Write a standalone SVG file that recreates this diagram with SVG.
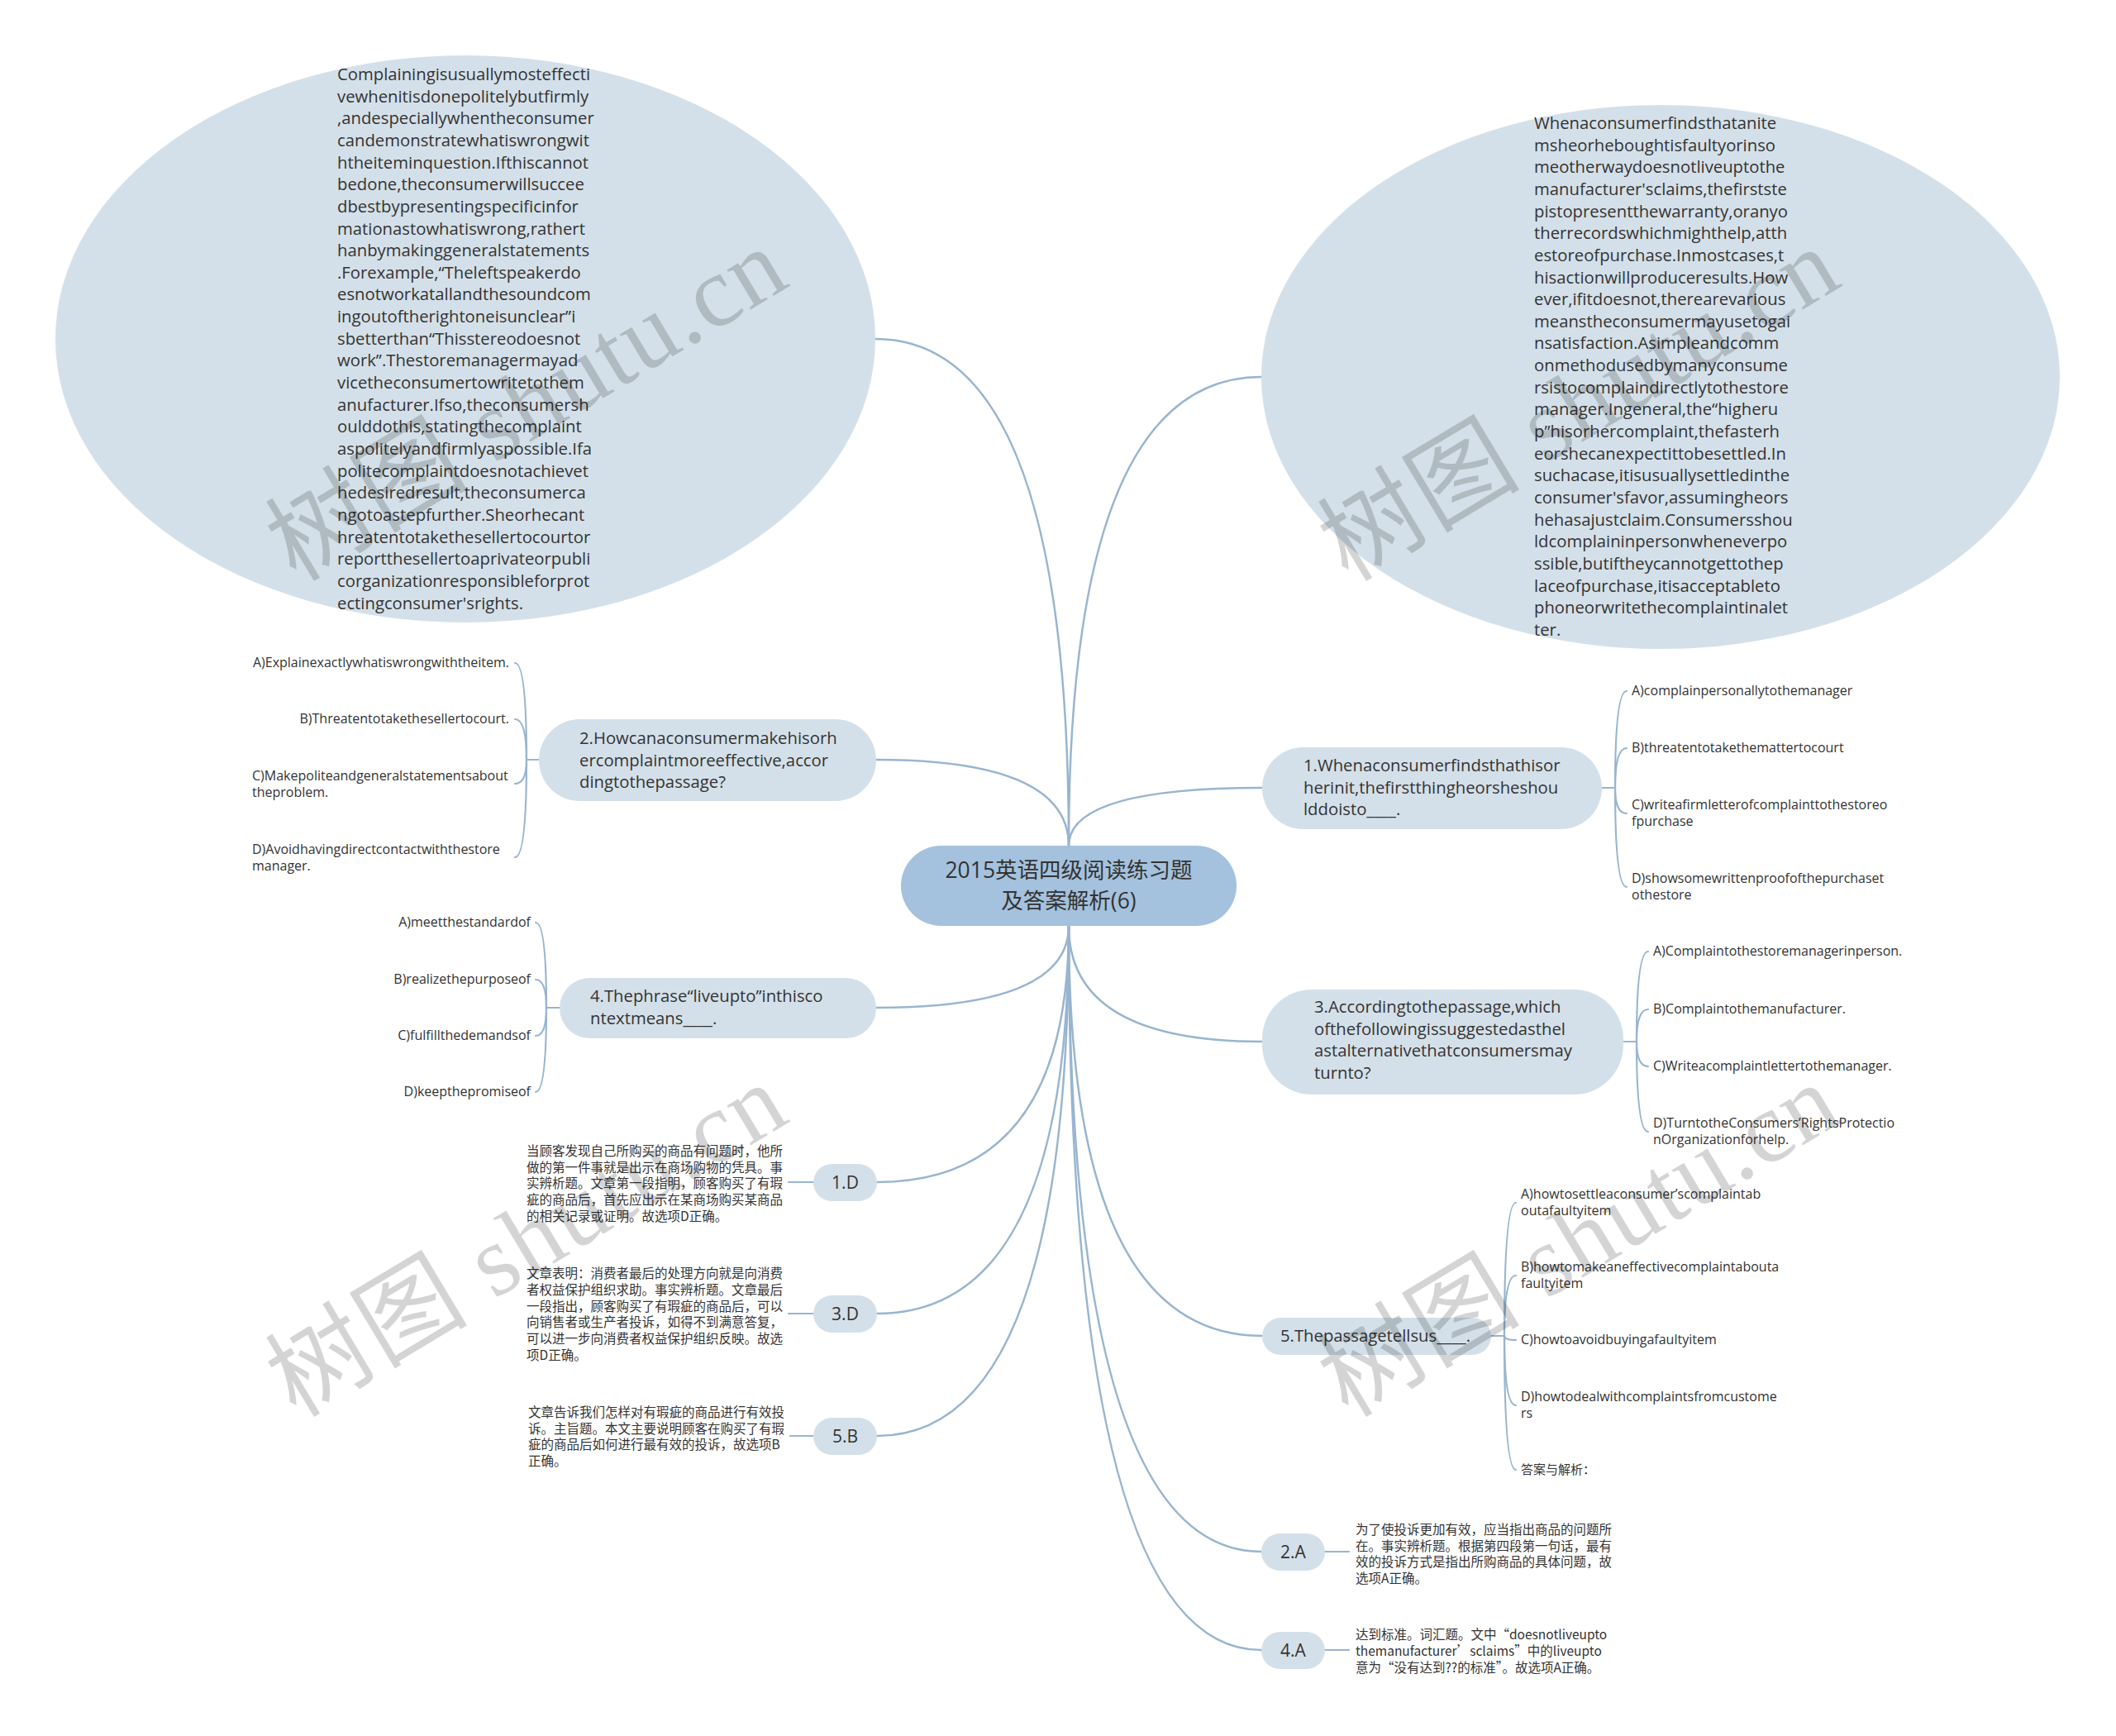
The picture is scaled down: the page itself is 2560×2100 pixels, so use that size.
<svg xmlns="http://www.w3.org/2000/svg" width="2560" height="2100" viewBox="0 0 2560 2100">
<style>
.bg{fill:#ffffff}
.node{fill:#d4e0e9}
.root{fill:#a4c1dd}
.edge{fill:none;stroke:#98b5cf;stroke-width:2.5;stroke-linecap:round}
.br{fill:none;stroke:#98b5cf;stroke-width:2.2;stroke-linecap:round}
.t{font-family:"Open Sans","Noto Sans CJK SC",sans-serif;fill:#333}
.big{font-size:20.3px}
.opt{font-size:16px}
.end{text-anchor:end}
.cn{font-family:"Noto Sans CJK SC",sans-serif;font-size:15.5px;fill:#333}
.lab{font-family:"Open Sans",sans-serif;font-size:21px;fill:#333;text-anchor:middle}
.rt{font-family:"Open Sans","Noto Sans CJK SC",sans-serif;font-size:26.5px;fill:#333;text-anchor:middle}
.wm{font-family:"Liberation Serif","Noto Sans CJK SC",serif;font-size:122px;fill:#000;fill-opacity:0.17}
</style>
<rect class="bg" x="0" y="0" width="2560" height="2100"/>

<g id="connectors">
  <path class="edge" d="M1293,1023 Q1293,410 1059,410"/>
  <path class="edge" d="M1293,1023 Q1293,456 1526,456"/>
  <path class="edge" d="M1293,1023 Q1293,919 1060,919"/>
  <path class="edge" d="M1293,1023 Q1293,953 1527,953"/>
  <path class="edge" d="M1293,1120 Q1293,1219 1060,1219"/>
  <path class="edge" d="M1293,1120 Q1293,1430 1061,1430"/>
  <path class="edge" d="M1293,1120 Q1293,1589 1061,1589"/>
  <path class="edge" d="M1293,1120 Q1293,1737 1061,1737"/>
  <path class="edge" d="M1293,1120 Q1293,1260 1527,1260"/>
  <path class="edge" d="M1293,1120 Q1293,1616 1527,1616"/>
  <path class="edge" d="M1293,1120 Q1293,1877 1526,1877"/>
  <path class="edge" d="M1293,1120 Q1293,1996 1526,1996"/>
  <!-- node 2 options -->
  <path class="br" d="M652,919 H637"/>
  <path class="br" d="M637,919 Q637,802 623,802"/>
  <path class="br" d="M637,919 Q637,870 623,870"/>
  <path class="br" d="M637,919 Q637,948 623,948"/>
  <path class="br" d="M637,919 Q637,1037 623,1037"/>
  <!-- node 4 options -->
  <path class="br" d="M677,1219 H661"/>
  <path class="br" d="M661,1219 Q661,1116 648,1116"/>
  <path class="br" d="M661,1219 Q661,1185 648,1185"/>
  <path class="br" d="M661,1219 Q661,1253 648,1253"/>
  <path class="br" d="M661,1219 Q661,1321 648,1321"/>
  <!-- node 1 options -->
  <path class="br" d="M1938,953 H1954"/>
  <path class="br" d="M1954,953 Q1954,836 1968,836"/>
  <path class="br" d="M1954,953 Q1954,905 1968,905"/>
  <path class="br" d="M1954,953 Q1954,984 1968,984"/>
  <path class="br" d="M1954,953 Q1954,1073 1968,1073"/>
  <!-- node 3 options -->
  <path class="br" d="M1964,1260 H1980"/>
  <path class="br" d="M1980,1260 Q1980,1151 1994,1151"/>
  <path class="br" d="M1980,1260 Q1980,1221 1994,1221"/>
  <path class="br" d="M1980,1260 Q1980,1290 1994,1290"/>
  <path class="br" d="M1980,1260 Q1980,1369 1994,1369"/>
  <!-- node 5 options -->
  <path class="br" d="M1804,1616 H1820"/>
  <path class="br" d="M1820,1616 Q1820,1455 1834,1455"/>
  <path class="br" d="M1820,1616 Q1820,1543 1834,1543"/>
  <path class="br" d="M1820,1616 Q1820,1621 1834,1621"/>
  <path class="br" d="M1820,1616 Q1820,1700 1834,1700"/>
  <path class="br" d="M1820,1616 Q1820,1778 1834,1778"/>
  <!-- answer stubs -->
  <path class="br" d="M984,1430 H954"/>
  <path class="br" d="M984,1589 H954"/>
  <path class="br" d="M984,1737 H956"/>
  <path class="br" d="M1603,1877 H1632"/>
  <path class="br" d="M1603,1996 H1632"/>
</g>

<g id="root">
  <rect class="root" x="1090" y="1023" width="406" height="97" rx="48.5"/>
  <text class="rt" x="1293" y="1062">2015英语四级阅读练习题</text>
  <text class="rt" x="1293" y="1099">及答案解析(6)</text>
</g>

<g id="passage-left">
  <ellipse class="node" cx="563" cy="410" rx="496" ry="343"/>
  <text class="t big" x="408" y="97">
    <tspan x="408">Complainingisusuallymosteffecti</tspan>
    <tspan x="408" dy="26.65">vewhenitisdonepolitelybutfirmly</tspan>
    <tspan x="408" dy="26.65">,andespeciallywhentheconsumer</tspan>
    <tspan x="408" dy="26.65">candemonstratewhatiswrongwit</tspan>
    <tspan x="408" dy="26.65">htheiteminquestion.Ifthiscannot</tspan>
    <tspan x="408" dy="26.65">bedone,theconsumerwillsuccee</tspan>
    <tspan x="408" dy="26.65">dbestbypresentingspecificinfor</tspan>
    <tspan x="408" dy="26.65">mationastowhatiswrong,rathert</tspan>
    <tspan x="408" dy="26.65">hanbymakinggeneralstatements</tspan>
    <tspan x="408" dy="26.65">.Forexample,“Theleftspeakerdo</tspan>
    <tspan x="408" dy="26.65">esnotworkatallandthesoundcom</tspan>
    <tspan x="408" dy="26.65">ingoutoftherightoneisunclear”i</tspan>
    <tspan x="408" dy="26.65">sbetterthan“Thisstereodoesnot</tspan>
    <tspan x="408" dy="26.65">work”.Thestoremanagermayad</tspan>
    <tspan x="408" dy="26.65">vicetheconsumertowritetothem</tspan>
    <tspan x="408" dy="26.65">anufacturer.Ifso,theconsumersh</tspan>
    <tspan x="408" dy="26.65">oulddothis,statingthecomplaint</tspan>
    <tspan x="408" dy="26.65">aspolitelyandfirmlyaspossible.Ifa</tspan>
    <tspan x="408" dy="26.65">politecomplaintdoesnotachievet</tspan>
    <tspan x="408" dy="26.65">hedesiredresult,theconsumerca</tspan>
    <tspan x="408" dy="26.65">ngotoastepfurther.Sheorhecant</tspan>
    <tspan x="408" dy="26.65">hreatentotakethesellertocourtor</tspan>
    <tspan x="408" dy="26.65">reportthesellertoaprivateorpubli</tspan>
    <tspan x="408" dy="26.65">corganizationresponsibleforprot</tspan>
    <tspan x="408" dy="26.65">ectingconsumer'srights.</tspan>
  </text>
</g>

<g id="passage-right">
  <ellipse class="node" cx="2009" cy="456" rx="483" ry="329"/>
  <text class="t big" x="1856" y="156">
    <tspan x="1856">Whenaconsumerfindsthatanite</tspan>
    <tspan x="1856" dy="26.65">msheorheboughtisfaultyorinso</tspan>
    <tspan x="1856" dy="26.65">meotherwaydoesnotliveuptothe</tspan>
    <tspan x="1856" dy="26.65">manufacturer'sclaims,thefirstste</tspan>
    <tspan x="1856" dy="26.65">pistopresentthewarranty,oranyo</tspan>
    <tspan x="1856" dy="26.65">therrecordswhichmighthelp,atth</tspan>
    <tspan x="1856" dy="26.65">estoreofpurchase.Inmostcases,t</tspan>
    <tspan x="1856" dy="26.65">hisactionwillproduceresults.How</tspan>
    <tspan x="1856" dy="26.65">ever,ifitdoesnot,therearevarious</tspan>
    <tspan x="1856" dy="26.65">meanstheconsumermayusetogai</tspan>
    <tspan x="1856" dy="26.65">nsatisfaction.Asimpleandcomm</tspan>
    <tspan x="1856" dy="26.65">onmethodusedbymanyconsume</tspan>
    <tspan x="1856" dy="26.65">rsistocomplaindirectlytothestore</tspan>
    <tspan x="1856" dy="26.65">manager.Ingeneral,the“higheru</tspan>
    <tspan x="1856" dy="26.65">p”hisorhercomplaint,thefasterh</tspan>
    <tspan x="1856" dy="26.65">eorshecanexpectittobesettled.In</tspan>
    <tspan x="1856" dy="26.65">suchacase,itisusuallysettledinthe</tspan>
    <tspan x="1856" dy="26.65">consumer'sfavor,assumingheors</tspan>
    <tspan x="1856" dy="26.65">hehasajustclaim.Consumersshou</tspan>
    <tspan x="1856" dy="26.65">ldcomplaininpersonwheneverpo</tspan>
    <tspan x="1856" dy="26.65">ssible,butiftheycannotgettothep</tspan>
    <tspan x="1856" dy="26.65">laceofpurchase,itisacceptableto</tspan>
    <tspan x="1856" dy="26.65">phoneorwritethecomplaintinalet</tspan>
    <tspan x="1856" dy="26.65">ter.</tspan>
  </text>
</g>

<g id="q2">
  <rect class="node" x="652" y="870" width="408" height="99" rx="49.5"/>
  <text class="t big" x="701" y="900">
    <tspan x="701">2.Howcanaconsumermakehisorh</tspan>
    <tspan x="701" dy="26.5">ercomplaintmoreeffective,accor</tspan>
    <tspan x="701" dy="26.5">dingtothepassage?</tspan>
  </text>
  <text class="t opt end" x="616" y="807">A)Explainexactlywhatiswrongwiththeitem.</text>
  <text class="t opt end" x="616" y="875">B)Threatentotakethesellertocourt.</text>
  <text class="t opt" x="305" y="944"><tspan x="305">C)Makepoliteandgeneralstatementsabout</tspan><tspan x="305" dy="20">theproblem.</tspan></text>
  <text class="t opt" x="305" y="1033"><tspan x="305">D)Avoidhavingdirectcontactwiththestore</tspan><tspan x="305" dy="20">manager.</tspan></text>
</g>

<g id="q4">
  <rect class="node" x="677" y="1183" width="383" height="73" rx="36.5"/>
  <text class="t big" x="714" y="1212">
    <tspan x="714">4.Thephrase“liveupto”inthisco</tspan>
    <tspan x="714" dy="26.5">ntextmeans____.</tspan>
  </text>
  <text class="t opt end" x="642" y="1121">A)meetthestandardof</text>
  <text class="t opt end" x="642" y="1190">B)realizethepurposeof</text>
  <text class="t opt end" x="642" y="1258">C)fulfillthedemandsof</text>
  <text class="t opt end" x="642" y="1326">D)keepthepromiseof</text>
</g>

<g id="q1">
  <rect class="node" x="1527" y="904" width="411" height="99" rx="49.5"/>
  <text class="t big" x="1577" y="933">
    <tspan x="1577">1.Whenaconsumerfindsthathisor</tspan>
    <tspan x="1577" dy="26.5">herinit,thefirstthingheorsheshou</tspan>
    <tspan x="1577" dy="26.5">lddoisto____.</tspan>
  </text>
  <text class="t opt" x="1974" y="841">A)complainpersonallytothemanager</text>
  <text class="t opt" x="1974" y="910">B)threatentotakethemattertocourt</text>
  <text class="t opt" x="1974" y="979"><tspan x="1974">C)writeafirmletterofcomplainttothestoreo</tspan><tspan x="1974" dy="20">fpurchase</tspan></text>
  <text class="t opt" x="1974" y="1068"><tspan x="1974">D)showsomewrittenproofofthepurchaset</tspan><tspan x="1974" dy="20">othestore</tspan></text>
</g>

<g id="q3">
  <rect class="node" x="1527" y="1197" width="437" height="127" rx="60"/>
  <text class="t big" x="1590" y="1225">
    <tspan x="1590">3.Accordingtothepassage,which</tspan>
    <tspan x="1590" dy="26.6">ofthefollowingissuggestedasthel</tspan>
    <tspan x="1590" dy="26.6">astalternativethatconsumersmay</tspan>
    <tspan x="1590" dy="26.6">turnto?</tspan>
  </text>
  <text class="t opt" x="2000" y="1156">A)Complaintothestoremanagerinperson.</text>
  <text class="t opt" x="2000" y="1226">B)Complaintothemanufacturer.</text>
  <text class="t opt" x="2000" y="1295">C)Writeacomplaintlettertothemanager.</text>
  <text class="t opt" x="2000" y="1364"><tspan x="2000">D)TurntotheConsumers’RightsProtectio</tspan><tspan x="2000" dy="20">nOrganizationforhelp.</tspan></text>
</g>

<g id="q5">
  <rect class="node" x="1527" y="1594" width="277" height="45" rx="22.5"/>
  <text class="t big" x="1549" y="1623">5.Thepassagetellsus____.</text>
  <text class="t opt" x="1840" y="1450"><tspan x="1840">A)howtosettleaconsumer’scomplaintab</tspan><tspan x="1840" dy="20">outafaultyitem</tspan></text>
  <text class="t opt" x="1840" y="1538"><tspan x="1840">B)howtomakeaneffectivecomplaintabouta</tspan><tspan x="1840" dy="20">faultyitem</tspan></text>
  <text class="t opt" x="1840" y="1626">C)howtoavoidbuyingafaultyitem</text>
  <text class="t opt" x="1840" y="1695"><tspan x="1840">D)howtodealwithcomplaintsfromcustome</tspan><tspan x="1840" dy="20">rs</tspan></text>
  <text class="cn" x="1840" y="1783" style="font-size:15px">答案与解析：</text>
</g>

<g id="a1">
  <rect class="node" x="984" y="1408" width="77" height="45" rx="22.5"/>
  <text class="lab" x="1022.5" y="1438">1.D</text>
  <text class="cn" x="637" y="1398">
    <tspan x="637">当顾客发现自己所购买的商品有问题时，他所</tspan>
    <tspan x="637" dy="19.7">做的第一件事就是出示在商场购物的凭具。事</tspan>
    <tspan x="637" dy="19.7">实辨析题。文章第一段指明，顾客购买了有瑕</tspan>
    <tspan x="637" dy="19.7">疵的商品后，首先应出示在某商场购买某商品</tspan>
    <tspan x="637" dy="19.7">的相关记录或证明。故选项D正确。</tspan>
  </text>
</g>

<g id="a3">
  <rect class="node" x="984" y="1567" width="77" height="45" rx="22.5"/>
  <text class="lab" x="1022.5" y="1597">3.D</text>
  <text class="cn" x="637" y="1546">
    <tspan x="637">文章表明：消费者最后的处理方向就是向消费</tspan>
    <tspan x="637" dy="19.8">者权益保护组织求助。事实辨析题。文章最后</tspan>
    <tspan x="637" dy="19.8">一段指出，顾客购买了有瑕疵的商品后，可以</tspan>
    <tspan x="637" dy="19.8">向销售者或生产者投诉，如得不到满意答复，</tspan>
    <tspan x="637" dy="19.8">可以进一步向消费者权益保护组织反映。故选</tspan>
    <tspan x="637" dy="19.8">项D正确。</tspan>
  </text>
</g>

<g id="a5">
  <rect class="node" x="984" y="1715" width="77" height="45" rx="22.5"/>
  <text class="lab" x="1022.5" y="1745">5.B</text>
  <text class="cn" x="639" y="1714">
    <tspan x="639">文章告诉我们怎样对有瑕疵的商品进行有效投</tspan>
    <tspan x="639" dy="19.7">诉。主旨题。本文主要说明顾客在购买了有瑕</tspan>
    <tspan x="639" dy="19.7">疵的商品后如何进行最有效的投诉，故选项B</tspan>
    <tspan x="639" dy="19.7">正确。</tspan>
  </text>
</g>

<g id="a2">
  <rect class="node" x="1526" y="1855" width="77" height="45" rx="22.5"/>
  <text class="lab" x="1564.5" y="1885">2.A</text>
  <text class="cn" x="1640" y="1856">
    <tspan x="1640">为了使投诉更加有效，应当指出商品的问题所</tspan>
    <tspan x="1640" dy="19.7">在。事实辨析题。根据第四段第一句话，最有</tspan>
    <tspan x="1640" dy="19.7">效的投诉方式是指出所购商品的具体问题，故</tspan>
    <tspan x="1640" dy="19.7">选项A正确。</tspan>
  </text>
</g>

<g id="a4">
  <rect class="node" x="1526" y="1974" width="77" height="45" rx="22.5"/>
  <text class="lab" x="1564.5" y="2004">4.A</text>
  <text class="cn" x="1640" y="1983">
    <tspan x="1640">达到标准。词汇题。文中“doesnotliveupto</tspan>
    <tspan x="1640" dy="19.8">themanufacturer’sclaims”中的liveupto</tspan>
    <tspan x="1640" dy="19.8">意为“没有达到??的标准”。故选项A正确。</tspan>
  </text>
</g>

<g id="watermark">
  <text class="wm" transform="translate(358,705) rotate(-31)" textLength="700" lengthAdjust="spacing">树图 shutu.cn</text>
  <text class="wm" transform="translate(1631,705) rotate(-31)" textLength="700" lengthAdjust="spacing">树图 shutu.cn</text>
  <text class="wm" transform="translate(358,1716) rotate(-31)" textLength="700" lengthAdjust="spacing">树图 shutu.cn</text>
  <text class="wm" transform="translate(1631,1716) rotate(-31)" textLength="700" lengthAdjust="spacing">树图 shutu.cn</text>
</g>
</svg>
